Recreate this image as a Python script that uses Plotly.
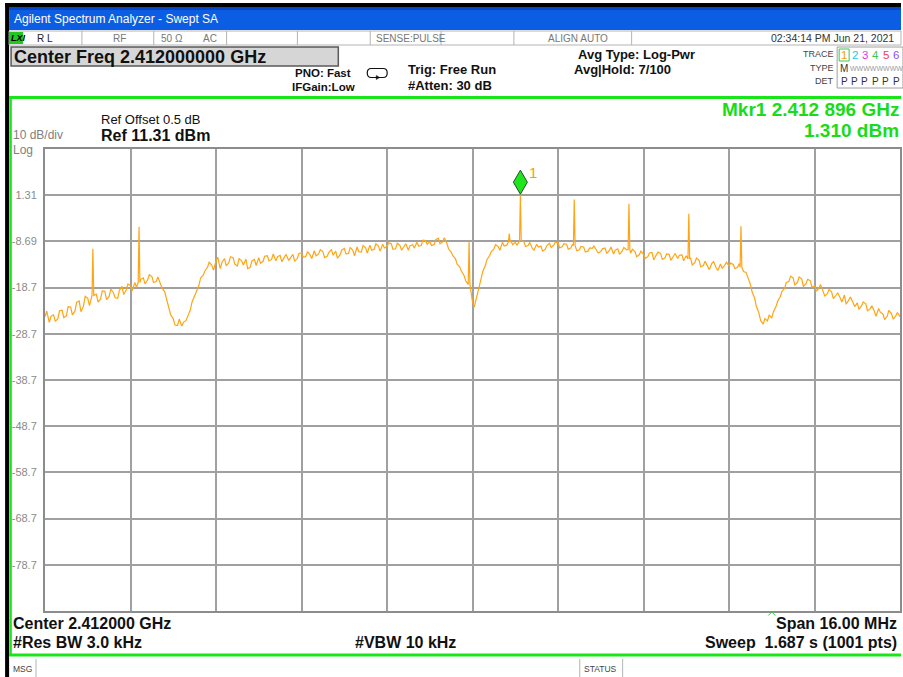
import plotly.graph_objects as go

# ---- sweep settings -------------------------------------------------------
CENTER_GHZ = 2.412
SPAN_MHZ = 16.0
N_POINTS = 1001
REF_LEVEL = 11.31
DB_PER_DIV = 10
REF_OFFSET_DB = 0.5
RBW_KHZ = 3.0
VBW_KHZ = 10
SWEEP_S = 1.687
ATTEN_DB = 30
AVG_DONE, AVG_TOTAL = 7, 100
TIMESTAMP = "02:34:14 PM Jun 21, 2021"

# ---- trace 1 (log-power average) -------------------------------------------
# levels at bins 0, 5, 10, ... 1000
trace_idx_a = list(range(0, 1001, 5))
trace_dbm_a = [
    -25.0, -26.2, -24.6, -25.4, -23.6, -24.8, -22.9, -23.8, -21.6, -22.7,
    -21.0, -22.3, -20.1, -21.2, -19.5, -20.6, -19.8, -21.0, -18.4, -19.2,
    -18.3, -17.6, -18.9, -16.6, -17.0, -16.3, -17.4, -17.9, -19.6, -22.8,
    -25.4, -26.9, -27.0, -25.8, -23.5, -20.6, -18.2, -16.0, -14.3, -13.8,
    -13.0, -14.6, -12.4, -13.3, -12.2, -14.0, -12.9, -12.5, -14.3, -12.6,
    -12.2, -13.0, -11.8, -12.6, -12.9, -11.7, -12.1, -12.8, -11.5, -12.4,
    -11.2, -12.0, -11.6, -10.7, -11.4, -10.9, -11.9, -10.4, -10.8, -11.6,
    -10.2, -11.3, -10.6, -9.9, -11.0, -10.1, -9.5, -10.4, -9.7, -9.3,
    -9.8, -9.2, -10.3, -9.5, -9.9, -10.6, -9.4, -8.9, -9.6, -8.5,
    -8.7, -9.4, -8.0, -8.8, -9.1, -11.0, -12.4, -14.2, -16.0, -18.5,
    -21.8, -20.4, -16.8, -13.9, -11.8, -10.3, -9.8, -8.9, -9.5, -8.6,
    -8.9, -8.4, -8.7, -9.6, -10.2, -9.3, -9.7, -10.4, -9.1, -9.5,
    -9.0, -9.8, -9.3, -10.1, -9.6, -10.5, -9.9, -10.8, -10.2, -10.6,
    -10.9, -10.1, -10.7, -11.4, -10.3, -10.8, -10.5, -11.2, -10.9, -11.6,
    -11.5, -12.0, -11.1, -11.6, -11.3, -12.3, -11.5, -11.9, -12.4, -11.6,
    -11.8, -12.2, -13.3, -12.8, -13.9, -14.1, -13.4, -14.4, -13.6, -13.9,
    -14.0, -13.7, -14.3, -14.8, -15.4, -18.0, -21.0, -24.2, -26.6, -25.9,
    -25.3, -22.8, -20.6, -18.9, -17.4, -16.6, -17.6, -16.8, -17.9, -17.2,
    -18.3, -18.9, -19.3, -20.0, -19.6, -20.4, -20.9, -20.3, -21.4, -21.9,
    -22.0, -22.6, -22.2, -23.3, -23.8, -23.2, -24.4, -24.9, -24.3, -24.8,
    -25.0,
]
# levels at bins 2, 7, 12, ... 997
trace_idx_b = list(range(2, 1000, 5))
trace_dbm_b = [
    -23.8, -24.9, -26.0, -23.7, -25.2, -22.8, -24.6, -21.9, -23.9, -20.6,
    -22.6, -20.3, -21.8, -19.4, -21.3, -19.0, -20.9, -19.3, -20.2, -17.9,
    -19.4, -18.6, -16.9, -17.9, -15.9, -17.6, -16.4, -18.8, -21.0, -24.6,
    -26.8, -25.5, -26.2, -24.9, -21.8, -19.6, -16.6, -15.1, -13.2, -14.9,
    -12.1, -13.2, -14.0, -12.0, -13.6, -12.4, -13.8, -14.6, -12.9, -13.9,
    -13.4, -11.9, -12.9, -11.4, -12.0, -13.1, -11.5, -12.2, -13.0, -11.3,
    -12.1, -10.9, -12.4, -11.8, -10.5, -12.2, -11.1, -11.7, -12.3, -10.6,
    -11.4, -10.0, -11.8, -10.9, -9.6, -11.2, -10.6, -9.2, -10.8, -10.1,
    -9.0, -10.4, -9.1, -10.6, -9.2, -9.6, -10.1, -9.7, -8.4, -9.3,
    -9.6, -8.3, -9.2, -7.9, -10.3, -11.8, -13.6, -15.1, -17.2, -20.5,
    -22.9, -18.6, -15.2, -12.6, -10.9, -9.4, -10.6, -9.7, -8.2, -9.4,
    -9.5, -9.2, -9.8, -8.9, -10.6, -9.9, -10.8, -9.6, -10.0, -8.8,
    -10.1, -9.2, -10.4, -9.3, -10.7, -9.8, -11.0, -10.1, -9.7, -11.2,
    -10.3, -11.3, -9.9, -10.6, -11.5, -10.0, -11.6, -10.4, -12.0, -10.8,
    -12.4, -11.2, -12.7, -11.0, -12.6, -11.4, -12.8, -11.3, -11.7, -12.9,
    -12.6, -13.8, -12.3, -14.2, -13.0, -14.8, -13.1, -15.0, -14.5, -13.2,
    -13.4, -14.6, -13.5, -15.2, -16.3, -19.6, -22.8, -25.8, -25.4, -24.6,
    -23.9, -21.6, -19.5, -17.6, -16.2, -18.1, -16.4, -18.4, -16.9, -18.6,
    -19.4, -18.0, -20.5, -19.1, -21.1, -19.8, -21.8, -22.3, -20.7, -22.8,
    -23.4, -21.8, -23.7, -22.6, -24.9, -24.0, -25.6, -23.6, -25.5, -24.1,
]

# narrow spurs: bin, peak level, level on either side of the spur
spur_idx = [56, 110, 496, 543, 556, 619, 683, 753, 814]
spur_dbm = [-10.3, -5.5, -8.7, -7.0, 1.31, 0.4, -0.55, -2.7, -5.4]
spur_base = [-20.4, -17.6, -18.0, -8.8, -8.6, -9.6, -10.5, -12.5, -14.3]

# marker 1 sits on the strongest spur
MKR_IDX = 556

# y-axis labels (top and bottom graticule lines carry none)
y_tick_vals = [1.31, -8.69, -18.69, -28.69, -38.69, -48.69, -58.69, -68.69, -78.69]
y_tick_text = ["1.31", "-8.69", "-18.7", "-28.7", "-38.7", "-48.7", "-58.7", "-68.7", "-78.7"]

# trace-panel legend
trace_numbers = ["1", "2", "3", "4", "5", "6"]
trace_colors = ["#f0a000", "#19c8f0", "#e632e6", "#3cc850", "#f03c64", "#8c50f0"]

# ---- derived sweep values ---------------------------------------------------
start_ghz = CENTER_GHZ - SPAN_MHZ / 2000.0
stop_ghz = CENTER_GHZ + SPAN_MHZ / 2000.0
step_ghz = (stop_ghz - start_ghz) / (N_POINTS - 1)

levels = dict(zip(trace_idx_a, trace_dbm_a))
levels.update(zip(trace_idx_b, trace_dbm_b))
for i, pk, base in zip(spur_idx, spur_dbm, spur_base):
    levels[i - 1] = base
    levels[i] = pk
    levels[i + 1] = base
bins = sorted(levels)
freqs = [start_ghz + b * step_ghz for b in bins]
amps = [levels[b] for b in bins]

mkr_freq = start_ghz + MKR_IDX * step_ghz
mkr_dbm = spur_dbm[spur_idx.index(MKR_IDX)]

# ---- screen geometry (plot area in pixels) --------------------------------
W, H = 903, 677
PL, PR, PT, PB = 45, 902, 149, 611
PW, PH = PR - PL, PB - PT


def fx(px):
    return (px - PL) / PW


def fy(py):
    return (PB - py) / PH


FONT = "Liberation Sans"
shapes = []
annots = []


def rect(x0, y0, x1, y1, fill=None, line=None, lw=1):
    shapes.append(dict(type="rect", xref="paper", yref="paper",
                       x0=fx(x0), x1=fx(x1), y0=fy(y1), y1=fy(y0),
                       fillcolor=fill or "rgba(0,0,0,0)",
                       line=dict(color=line or "rgba(0,0,0,0)", width=lw if line else 0),
                       layer="above"))


def seg(x0, y0, x1, y1, color, lw=1):
    shapes.append(dict(type="line", xref="paper", yref="paper",
                       x0=fx(x0), x1=fx(x1), y0=fy(y0), y1=fy(y1),
                       line=dict(color=color, width=lw), layer="above"))


def text(x, y, s, size, color="#000000", anchor="left", bold=False, family=FONT):
    annots.append(dict(xref="paper", yref="paper", x=fx(x), y=fy(y), text=s,
                       showarrow=False, xanchor=anchor, yanchor="middle",
                       borderpad=0,
                       font=dict(family=family, size=size, color=color,
                                 weight="bold" if bold else "normal")))


# outer black frame
rect(0, 0, W, 4, fill="#ffffff")
rect(5, 3, W, 7, fill="#000000")
rect(5, 3, 9, H, fill="#000000")

# title bar
rect(9, 7, W, 30, fill="#0b5ee4")
rect(9, 7, W, 10, fill="#0846c4")
text(13, 19, "Agilent Spectrum Analyzer - Swept SA", 12, "#ffffff")

# status row
rect(9, 31, W, 45, fill="#ffffff", line="#b4b4b4", lw=1)
for xd in [82, 154, 227, 298, 371, 442, 515, 633]:
    seg(xd, 31, xd, 45, "#b4b4b4", 1)
rect(9, 32, 23, 44, fill="#22c822")
text(10, 38, "<i>LXI</i>", 9, "#000000", bold=True)
text(36, 38, "R L", 10, "#222222")
text(112, 38, "RF", 10, "#777777")
text(160, 38, "50 Ω", 10, "#777777")
text(202, 38, "AC", 10, "#777777")
text(376, 38, "SENSE:PULSE", 10, "#777777")
text(548, 38, "ALIGN AUTO", 10, "#777777")
text(897, 38, TIMESTAMP, 10.5, "#333333", anchor="right")

# active function box
rect(11, 47, 339, 66, fill="#d6d6d6", line="#5a5a5a", lw=1.5)
text(13, 57, f"Center Freq {CENTER_GHZ:.9f} GHz", 18, "#111111", bold=True)

# settings block
text(353, 73, "PNO: Fast", 11.5, "#111111", anchor="right", bold=True)
text(357, 87, "IFGain:Low", 11.5, "#111111", anchor="right", bold=True)
shapes.append(dict(type="path", xref="paper", yref="paper", layer="above",
                   path=("M {a},{b} L {c},{b} Q {d},{b} {d},{e} Q {d},{f} {c},{f} "
                         "L {g},{f} Q {h},{f} {h},{e} Q {h},{b} {g},{b} L {i},{b}").format(
                       a=fx(375), b=fy(77.5), c=fx(384), d=fx(388), e=fy(73),
                       f=fy(68.5), g=fx(372), h=fx(368), i=fx(376)),
                   line=dict(color="#111111", width=1.2)))
shapes.append(dict(type="path", xref="paper", yref="paper", layer="above",
                   path="M {0},{1} L {2},{3} L {0},{4} Z".format(
                       fx(377), fy(75.5), fx(380.5), fy(77.5), fy(79.5)),
                   fillcolor="#111111", line=dict(color="#111111", width=0.5)))
text(408, 69, "Trig: Free Run", 13, "#111111", bold=True)
text(408, 85, f"#Atten: {ATTEN_DB} dB", 13, "#111111", bold=True)
text(578, 54, "Avg Type: Log-Pwr", 13, "#111111", bold=True)
text(574, 69, f"Avg|Hold: {AVG_DONE}/{AVG_TOTAL}", 13, "#111111", bold=True)

# trace panel
text(837, 54, "TRACE", 9, "#444444", anchor="right")
text(837, 68, "TYPE", 9, "#444444", anchor="right")
text(837, 81, "DET", 9, "#444444", anchor="right")
rect(839, 47, W + 2, 88, fill="#ffffff", line="#a0a0a0", lw=1)
rect(841, 49, 851, 61, line="#3cc850", lw=1)
for k, (num, col) in enumerate(zip(trace_numbers, trace_colors)):
    text(846 + k * 10.4, 55, num, 11.5, col, anchor="center")
    text(846 + k * 10.4, 81, "P", 10, "#333333", anchor="center")
text(846, 68, "M", 10, "#333333", anchor="center")
text(851, 68, "WWWWWWWW", 7, "#9a9a9a")

# green measurement frame
seg(9, 97.5, W, 97.5, "#19e619", 3)
seg(10.5, 96, 10.5, 656, "#19e619", 2.5)
seg(9, 655, W, 655, "#19e619", 3)

# reference block
text(100, 119, f"Ref Offset {REF_OFFSET_DB} dB", 13, "#111111")
text(100, 135, f"Ref {REF_LEVEL:.2f} dBm", 16, "#111111", bold=True)
text(12, 135.5, f"{DB_PER_DIV} dB/div", 12, "#808080")
text(12, 149.5, "Log", 12, "#808080")

# marker readout
fs = f"{mkr_freq:.6f}"
text(902, 109, f"Mkr1 {fs[:5]} {fs[5:]} GHz", 19, "#19dc19", anchor="right", bold=True)
text(902, 130, f"{mkr_dbm:.3f} dBm", 19, "#19dc19", anchor="right", bold=True)

# lower annotation block
text(12, 623, f"Center {CENTER_GHZ:.6f} GHz", 16, "#111111", bold=True)
text(12, 642, f"#Res BW {RBW_KHZ:.1f} kHz", 16, "#111111", bold=True)
text(355, 642, f"#VBW {VBW_KHZ} kHz", 16, "#111111", bold=True)
text(900, 623, f"Span {SPAN_MHZ:.2f} MHz", 16, "#111111", anchor="right", bold=True)
text(900, 642, f"Sweep  {SWEEP_S:.3f} s ({N_POINTS} pts)", 16, "#111111", anchor="right", bold=True)
seg(770, 615.5, 773.5, 612, "#19dc19", 1)
seg(773.5, 612, 777, 615.5, "#19dc19", 1)

# message / status bar
seg(36, 659, 36, H, "#b4b4b4", 1)
seg(581, 659, 581, H, "#b4b4b4", 1)
seg(624, 659, 624, H, "#b4b4b4", 1)
text(12, 669, "MSG", 8.5, "#444444")
text(584, 669, "STATUS", 8.5, "#444444")

# marker 1 diamond, anchored on the marker point in data units
shapes.append(dict(type="path", xref="x", yref="y", xsizemode="pixel", ysizemode="pixel",
                   xanchor=mkr_freq, yanchor=mkr_dbm, layer="above",
                   path="M 0,1 L 7,13 L 0,25 L -7,13 Z",
                   fillcolor="#1ee61e", line=dict(color="#2a4a2a", width=1)))
annots.append(dict(x=mkr_freq, y=mkr_dbm, xref="x", yref="y", text="1",
                   showarrow=False, xshift=13, yshift=23,
                   font=dict(family=FONT, size=15, color="#f0a000")))

fig = go.Figure()
fig.add_trace(go.Scatter(x=freqs, y=amps, mode="lines",
                         line=dict(color="#ffa514", width=1.2),
                         hoverinfo="skip", showlegend=False))

grid_x = [start_ghz + k * (stop_ghz - start_ghz) / 10 for k in range(11)]
fig.update_layout(
    width=W, height=H,
    margin=dict(l=PL, r=W - PR, t=PT, b=H - PB, pad=0),
    paper_bgcolor="#ffffff", plot_bgcolor="#ffffff",
    shapes=shapes, annotations=annots, showlegend=False,
    xaxis=dict(range=[start_ghz, stop_ghz], tickvals=grid_x, showticklabels=False,
               ticks="", showgrid=True, gridcolor="#a0a0a0", gridwidth=1.5,
               zeroline=False, showline=True, linecolor="#8c8c8c", linewidth=2,
               mirror=True, fixedrange=True),
    yaxis=dict(range=[REF_LEVEL - 10 * DB_PER_DIV, REF_LEVEL], tickvals=y_tick_vals,
               ticktext=y_tick_text, ticks="", ticklabelstandoff=4,
               tickfont=dict(family=FONT, size=11, color="#8a8a8a"),
               showgrid=True, gridcolor="#a0a0a0", gridwidth=1.5, zeroline=False,
               showline=True, linecolor="#8c8c8c", linewidth=2, mirror=True,
               fixedrange=True),
)

fig.write_html("out.html")
